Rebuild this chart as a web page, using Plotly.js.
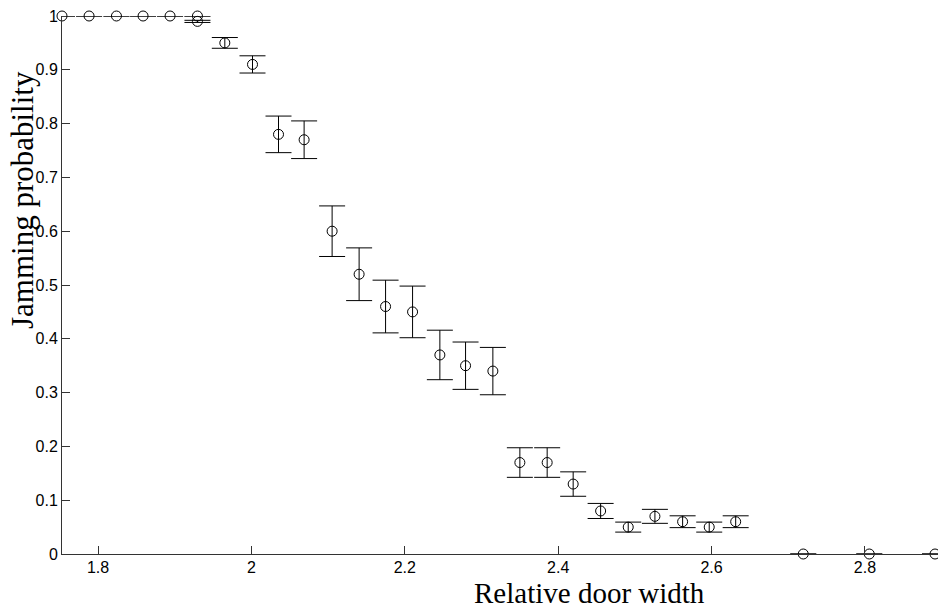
<!DOCTYPE html>
<html>
<head>
<meta charset="utf-8">
<script src="https://cdn.plot.ly/plotly-3.0.1.min.js"></script>
<style>html,body{margin:0;padding:0;background:#fff;}#chart{width:938px;height:608px;}</style>
</head>
<body>
<div id="chart"></div>
<script>
// Relative door width (x) of each measurement
const doorWidth = [1.7530, 1.7883, 1.8240, 1.8587, 1.8939, 1.9296, 1.9296, 1.9653, 2.0014, 2.0353,
                   2.0687, 2.1052, 2.1404, 2.1749, 2.2101, 2.2457, 2.2792, 2.3148, 2.3500, 2.3856,
                   2.4195, 2.4553, 2.4913, 2.5261, 2.5622, 2.5969, 2.6314, 2.7195, 2.8056, 2.8913];
// Jamming probability at each door width
const jamProb = [1, 1, 1, 1, 1, 1, 0.99, 0.95, 0.91, 0.78,
                 0.77, 0.60, 0.52, 0.46, 0.45, 0.37, 0.35, 0.34, 0.17, 0.17,
                 0.13, 0.08, 0.05, 0.07, 0.06, 0.05, 0.06, 0, 0, 0];
// Error (half-length of error bar)
const jamErr = [0, 0, 0, 0, 0, 0, 0.002, 0.010, 0.016, 0.034,
                0.035, 0.047, 0.049, 0.049, 0.048, 0.046, 0.044, 0.044, 0.0275, 0.0275,
                0.0227, 0.014, 0.0093, 0.013, 0.011, 0.0093, 0.011, 0, 0, 0];

const xTickVals = [1.8, 2, 2.2, 2.4, 2.6, 2.8];
const xTickText = ['1.8', '2', '2.2', '2.4', '2.6', '2.8'];
const yTickVals = [0, 0.1, 0.2, 0.3, 0.4, 0.5, 0.6, 0.7, 0.8, 0.9, 1];
const yTickText = ['0', '0.1', '0.2', '0.3', '0.4', '0.5', '0.6', '0.7', '0.8', '0.9', '1'];

const xTitle = 'Relative door width';
const yTitle = 'Jamming probability';

const trace = {
  x: doorWidth,
  y: jamProb,
  type: 'scatter',
  mode: 'markers',
  cliponaxis: false,
  marker: {symbol: 'circle-open', size: 10, color: '#000', line: {width: 1, color: '#000'}},
  error_y: {type: 'data', array: jamErr, visible: true, color: '#000', thickness: 1, width: 13},
  hoverinfo: 'none'
};

const axisFont = {family: '"Liberation Sans", Arial, sans-serif', size: 16, color: '#000'};
const xTitleFont = {family: '"Liberation Serif", "Times New Roman", serif', size: 29, color: '#000'};
const yTitleFont = {family: '"Liberation Serif", "Times New Roman", serif', size: 31, color: '#000'};

const layout = {
  width: 938, height: 608,
  margin: {l: 62, r: 0, t: 16, b: 54, pad: 0},
  paper_bgcolor: '#fff', plot_bgcolor: '#fff',
  showlegend: false,
  xaxis: {
    range: [1.753, 2.8952], showgrid: false, zeroline: false,
    showline: true, linecolor: '#333', linewidth: 1,
    ticks: 'inside', ticklen: 8, tickcolor: '#333', tickwidth: 1,
    tickmode: 'array', tickvals: xTickVals, ticktext: xTickText,
    tickfont: axisFont, ticklabelstandoff: -1, mirror: false
  },
  yaxis: {
    range: [0, 1], showgrid: false, zeroline: false,
    showline: true, linecolor: '#333', linewidth: 1,
    ticks: 'inside', ticklen: 8, tickcolor: '#333', tickwidth: 1,
    tickmode: 'array', tickvals: yTickVals, ticktext: yTickText,
    tickfont: axisFont, mirror: false
  },
  annotations: [
    {text: xTitle, xref: 'paper', yref: 'paper', x: 0.6016, y: -0.0716,
     xanchor: 'center', yanchor: 'middle', showarrow: false, font: xTitleFont},
    {text: yTitle, xref: 'paper', yref: 'paper', x: -0.0445, y: 0.658,
     xanchor: 'center', yanchor: 'middle', showarrow: false, textangle: -90, font: yTitleFont}
  ]
};

Plotly.newPlot('chart', [trace], layout, {displayModeBar: false, staticPlot: true});
</script>
</body>
</html>
